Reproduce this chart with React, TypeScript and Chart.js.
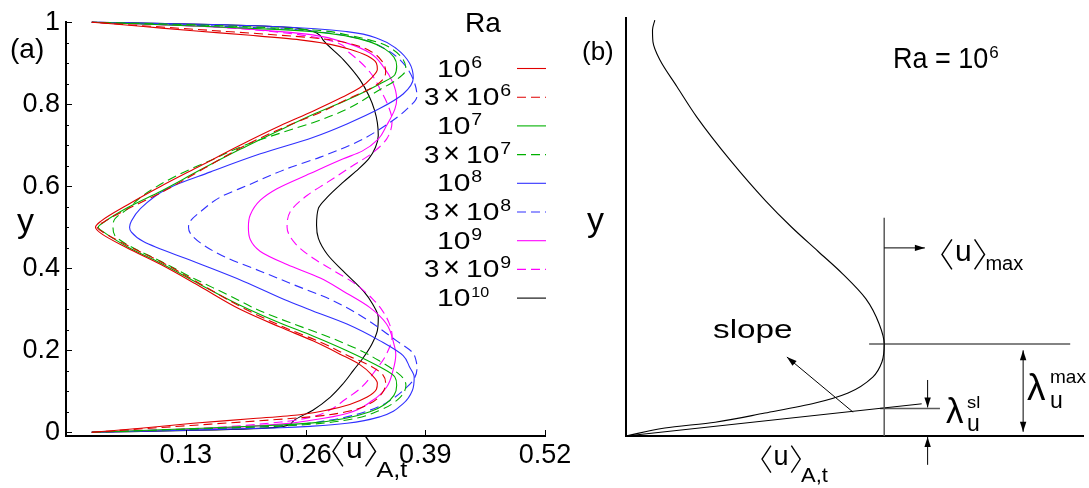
import { useEffect, useRef } from "react";
import { Chart, registerables } from "chart.js";

Chart.register(...registerables);

const FONT = '"Liberation Sans", Arial, Helvetica, sans-serif';

// ---------- panel (a): mean horizontal velocity <u>_{A,t} across the cell ----------
const RA_COEF = ["", "3", "", "3", "", "3", "", "3", ""];
const RA_EXP = ["6", "6", "7", "7", "8", "8", "9", "9", "10"];
const RA_COLORS = ["#e00000", "#e00000", "#00b000", "#00b000", "#3030ff", "#3030ff", "#ff00ff", "#ff00ff", "#000000"];
const RA_DASHED = [false, true, false, true, false, true, false, true, false];

const Y_1E6 = [0, 0.01, 0.022, 0.033, 0.043, 0.056, 0.068, 0.086, 0.105, 0.12, 0.14, 0.165, 0.19, 0.223, 0.256, 0.3, 0.355, 0.409, 0.449, 0.485, 0.5, 0.515, 0.555, 0.6, 0.65, 0.7, 0.748, 0.783, 0.815, 0.84, 0.865, 0.885, 0.9, 0.918, 0.934, 0.946, 0.957, 0.968, 0.979, 0.99, 1];
const U_1E6 = [0.028, 0.081, 0.138, 0.2, 0.254, 0.287, 0.308, 0.327, 0.337, 0.338, 0.332, 0.319, 0.298, 0.268, 0.233, 0.189, 0.146, 0.103, 0.067, 0.038, 0.032, 0.038, 0.067, 0.103, 0.146, 0.189, 0.233, 0.268, 0.298, 0.319, 0.332, 0.338, 0.337, 0.327, 0.308, 0.287, 0.254, 0.2, 0.138, 0.081, 0.028];

const Y_3E6 = [0, 0.01, 0.02, 0.03, 0.04, 0.052, 0.07, 0.095, 0.12, 0.14, 0.16, 0.185, 0.22, 0.255, 0.3, 0.355, 0.41, 0.452, 0.487, 0.5, 0.513, 0.548, 0.59, 0.645, 0.7, 0.745, 0.78, 0.815, 0.84, 0.86, 0.88, 0.905, 0.93, 0.948, 0.96, 0.97, 0.98, 0.99, 1];
const U_3E6 = [0.028, 0.092, 0.157, 0.222, 0.276, 0.308, 0.33, 0.343, 0.347, 0.344, 0.332, 0.308, 0.276, 0.238, 0.195, 0.151, 0.108, 0.07, 0.041, 0.034, 0.041, 0.07, 0.108, 0.151, 0.195, 0.238, 0.276, 0.308, 0.332, 0.344, 0.347, 0.343, 0.33, 0.308, 0.276, 0.222, 0.157, 0.092, 0.028];

const Y_1E7 = [0, 0.008, 0.018, 0.023, 0.035, 0.05, 0.068, 0.09, 0.115, 0.135, 0.159, 0.199, 0.235, 0.266, 0.31, 0.36, 0.412, 0.452, 0.488, 0.5, 0.512, 0.548, 0.588, 0.64, 0.69, 0.738, 0.775, 0.81, 0.85, 0.872, 0.893, 0.915, 0.935, 0.952, 0.966, 0.977, 0.982, 0.992, 1];
const U_1E7 = [0.028, 0.124, 0.233, 0.268, 0.305, 0.33, 0.346, 0.356, 0.359, 0.357, 0.341, 0.305, 0.268, 0.233, 0.189, 0.146, 0.103, 0.067, 0.041, 0.035, 0.041, 0.067, 0.103, 0.146, 0.189, 0.233, 0.268, 0.305, 0.341, 0.357, 0.359, 0.356, 0.346, 0.33, 0.305, 0.268, 0.233, 0.124, 0.028];

const Y_3E7 = [0, 0.007, 0.015, 0.02, 0.03, 0.054, 0.086, 0.115, 0.132, 0.15, 0.173, 0.196, 0.218, 0.238, 0.265, 0.296, 0.336, 0.376, 0.417, 0.457, 0.48, 0.5, 0.52, 0.545, 0.578, 0.627, 0.663, 0.699, 0.74, 0.755, 0.788, 0.836, 0.86, 0.885, 0.909, 0.933, 0.949, 0.969, 0.981, 0.993, 1];
const U_3E7 = [0.028, 0.124, 0.233, 0.268, 0.305, 0.341, 0.363, 0.369, 0.366, 0.357, 0.341, 0.323, 0.301, 0.279, 0.246, 0.211, 0.175, 0.138, 0.103, 0.067, 0.053, 0.051, 0.053, 0.067, 0.084, 0.121, 0.157, 0.193, 0.247, 0.268, 0.305, 0.341, 0.359, 0.369, 0.366, 0.355, 0.341, 0.305, 0.268, 0.146, 0.028];

const Y_1E8 = [0, 0.006, 0.011, 0.015, 0.022, 0.038, 0.07, 0.102, 0.135, 0.159, 0.187, 0.223, 0.264, 0.296, 0.32, 0.368, 0.417, 0.465, 0.488, 0.5, 0.515, 0.546, 0.594, 0.635, 0.679, 0.719, 0.752, 0.79, 0.825, 0.864, 0.9, 0.935, 0.958, 0.977, 0.989, 0.995, 1];
const U_1E8 = [0.028, 0.146, 0.233, 0.268, 0.305, 0.341, 0.366, 0.376, 0.378, 0.373, 0.366, 0.341, 0.305, 0.268, 0.241, 0.193, 0.138, 0.084, 0.071, 0.069, 0.071, 0.081, 0.11, 0.157, 0.211, 0.268, 0.305, 0.341, 0.366, 0.377, 0.373, 0.359, 0.341, 0.305, 0.233, 0.146, 0.028];

const Y_3E8 = [0, 0.008, 0.016, 0.03, 0.054, 0.078, 0.11, 0.127, 0.155, 0.175, 0.195, 0.223, 0.28, 0.324, 0.36, 0.393, 0.425, 0.457, 0.485, 0.5, 0.515, 0.538, 0.574, 0.602, 0.643, 0.671, 0.709, 0.756, 0.788, 0.82, 0.86, 0.9, 0.933, 0.957, 0.973, 0.984, 0.992, 1];
const U_3E8 = [0.028, 0.146, 0.233, 0.287, 0.33, 0.352, 0.37, 0.377, 0.381, 0.38, 0.376, 0.359, 0.323, 0.287, 0.247, 0.211, 0.175, 0.149, 0.135, 0.133, 0.135, 0.146, 0.168, 0.197, 0.24, 0.276, 0.317, 0.352, 0.37, 0.381, 0.377, 0.366, 0.348, 0.323, 0.287, 0.233, 0.146, 0.028];

const Y_1E9 = [0, 0.008, 0.02, 0.03, 0.046, 0.078, 0.11, 0.151, 0.19, 0.215, 0.264, 0.304, 0.344, 0.376, 0.409, 0.441, 0.47, 0.5, 0.53, 0.566, 0.594, 0.631, 0.667, 0.685, 0.715, 0.748, 0.788, 0.812, 0.852, 0.893, 0.925, 0.949, 0.969, 0.977, 0.99, 1];
const U_1E9 = [0.028, 0.146, 0.233, 0.268, 0.305, 0.333, 0.348, 0.355, 0.358, 0.356, 0.348, 0.33, 0.301, 0.276, 0.24, 0.211, 0.2, 0.198, 0.2, 0.211, 0.229, 0.265, 0.301, 0.321, 0.339, 0.348, 0.357, 0.359, 0.355, 0.344, 0.33, 0.305, 0.268, 0.233, 0.146, 0.028];

const Y_3E9 = [0, 0.01, 0.025, 0.038, 0.055, 0.08, 0.106, 0.151, 0.191, 0.235, 0.265, 0.295, 0.325, 0.365, 0.395, 0.425, 0.46, 0.5, 0.54, 0.578, 0.61, 0.651, 0.68, 0.715, 0.76, 0.795, 0.828, 0.878, 0.925, 0.953, 0.975, 0.99, 1];
const U_3E9 = [0.028, 0.146, 0.233, 0.268, 0.287, 0.303, 0.319, 0.336, 0.348, 0.354, 0.351, 0.344, 0.333, 0.312, 0.29, 0.268, 0.249, 0.24, 0.244, 0.262, 0.284, 0.312, 0.332, 0.348, 0.354, 0.35, 0.343, 0.33, 0.308, 0.29, 0.233, 0.146, 0.028];

const Y_1E10 = [0, 0.005, 0.012, 0.028, 0.054, 0.086, 0.119, 0.151, 0.183, 0.215, 0.248, 0.28, 0.312, 0.344, 0.393, 0.433, 0.473, 0.505, 0.546, 0.574, 0.61, 0.643, 0.668, 0.695, 0.724, 0.755, 0.785, 0.82, 0.86, 0.909, 0.957, 0.986, 0.995, 1];
const U_1E10 = [0.028, 0.146, 0.229, 0.247, 0.268, 0.287, 0.301, 0.312, 0.323, 0.332, 0.338, 0.339, 0.333, 0.323, 0.301, 0.284, 0.274, 0.272, 0.274, 0.284, 0.301, 0.318, 0.329, 0.336, 0.339, 0.338, 0.335, 0.329, 0.319, 0.301, 0.279, 0.25, 0.146, 0.028];

const PROFILES_Y = [Y_1E6, Y_3E6, Y_1E7, Y_3E7, Y_1E8, Y_3E8, Y_1E9, Y_3E9, Y_1E10];
const PROFILES_U = [U_1E6, U_3E6, U_1E7, U_3E7, U_1E8, U_3E8, U_1E9, U_3E9, U_1E10];

const X_TICKS_A = [0.13, 0.26, 0.39, 0.52];
const Y_TICKS_A = [0, 0.2, 0.4, 0.6, 0.8, 1];

// ---------- panel (b): sketch of the Ra = 10^6 profile near the lower wall ----------
const B_U = [0, 0.085, 0.195, 0.304, 0.414, 0.486, 0.54, 0.56, 0.565, 0.554, 0.525, 0.474, 0.42, 0.362, 0.306, 0.228, 0.155, 0.112, 0.074, 0.059, 0.058, 0.063];
const B_Y = [0, 0.019, 0.033, 0.055, 0.079, 0.103, 0.141, 0.177, 0.22, 0.268, 0.328, 0.388, 0.442, 0.5, 0.562, 0.66, 0.763, 0.835, 0.9, 0.943, 0.971, 0.995];
const B_SLOPE_END = { u: 0.647, y: 0.077 };
const B_SL_LEVEL = 0.066;

const DASH = [9, 5];

function put(ctx: CanvasRenderingContext2D, s: string, x: number, y: number, size: number, sx = 1, align: "left" | "center" | "right" = "left"): number {
  ctx.font = `${size}px ${FONT}`;
  ctx.textBaseline = "alphabetic";
  ctx.textAlign = "left";
  const w = ctx.measureText(s).width * sx;
  const x0 = align === "left" ? x : align === "center" ? x - w / 2 : x - w;
  ctx.save();
  ctx.translate(x0, y);
  ctx.scale(sx, 1);
  ctx.fillText(s, 0, 0);
  ctx.restore();
  return x0 + w;
}

// <inner>_sub with drawn angle brackets
function angled(ctx: CanvasRenderingContext2D, x: number, base: number, size: number, inner: string, sub: string, subSize: number, subSx: number, subDy: number) {
  const bw = 0.33 * size;
  const gap = 0.1 * size;
  const top = base - 0.72 * size;
  const bot = base + 0.28 * size;
  const mid = (top + bot) / 2;
  ctx.save();
  ctx.strokeStyle = "#000";
  ctx.lineWidth = Math.max(1.2, size / 20);
  ctx.beginPath();
  ctx.moveTo(x + bw, top);
  ctx.lineTo(x, mid);
  ctx.lineTo(x + bw, bot);
  ctx.stroke();
  let cx = put(ctx, inner, x + bw + gap, base, size);
  cx += gap;
  ctx.beginPath();
  ctx.moveTo(cx, top);
  ctx.lineTo(cx + bw, mid);
  ctx.lineTo(cx, bot);
  ctx.stroke();
  cx += bw + 0.03 * size;
  put(ctx, sub, cx, base + subDy, subSize, subSx);
  ctx.restore();
}

function seg(ctx: CanvasRenderingContext2D, x1: number, y1: number, x2: number, y2: number) {
  ctx.beginPath();
  ctx.moveTo(x1, y1);
  ctx.lineTo(x2, y2);
  ctx.stroke();
}

function head(ctx: CanvasRenderingContext2D, x1: number, y1: number, x2: number, y2: number, len = 10, half = 3.2) {
  const a = Math.atan2(y2 - y1, x2 - x1);
  const c = Math.cos(a);
  const s = Math.sin(a);
  ctx.beginPath();
  ctx.moveTo(x2, y2);
  ctx.lineTo(x2 - len * c + half * s, y2 - len * s - half * c);
  ctx.lineTo(x2 - len * c - half * s, y2 - len * s + half * c);
  ctx.closePath();
  ctx.fill();
}

function arrow(ctx: CanvasRenderingContext2D, x1: number, y1: number, x2: number, y2: number, both = false) {
  seg(ctx, x1, y1, x2, y2);
  head(ctx, x1, y1, x2, y2);
  if (both) head(ctx, x2, y2, x1, y1);
}

const panelADecor = {
  id: "panelADecor",
  afterDraw(chart: any) {
    const { ctx, chartArea: ca, scales } = chart;
    const sx = scales.x;
    const sy = scales.y;
    ctx.save();
    ctx.strokeStyle = "#000";
    ctx.fillStyle = "#000";
    ctx.lineWidth = 1;
    // inward tick marks: majors every 0.2, minors every 0.05
    for (let k = 0; k <= 20; k++) {
      const py = Math.round(sy.getPixelForValue(k * 0.05)) + 0.5;
      seg(ctx, ca.left, py, ca.left + (k % 4 === 0 ? 6 : 3), py);
    }
    X_TICKS_A.forEach((v) => {
      const px = Math.round(sx.getPixelForValue(v)) + 0.5;
      seg(ctx, px, ca.bottom, px, ca.bottom - 6);
    });

    // legend
    put(ctx, "Ra", 465, 32, 28);
    chart.data.datasets.forEach((ds: any, i: number) => {
      const ly = 68.5 + i * 28.7;
      ctx.save();
      ctx.strokeStyle = ds.borderColor;
      ctx.lineWidth = 1.1;
      ctx.setLineDash(ds.borderDash || []);
      seg(ctx, 517, ly, 546, ly);
      ctx.restore();
      const base = ly + 8;
      let cx: number;
      if (RA_COEF[i]) {
        put(ctx, RA_COEF[i], 424, base, 24, 1.15);
        put(ctx, "×", 443, base, 29, 1.0);
        cx = put(ctx, "10", 466, base, 24, 1.25);
      } else {
        cx = put(ctx, "10", 437, base, 24, 1.25);
      }
      const e = RA_EXP[i];
      put(ctx, e, cx + 1, ly - 1, e.length > 1 ? 14 : 17, 1.15);
    });

    // labels
    put(ctx, "(a)", 10, 58, 28);
    put(ctx, "y", 17, 232, 34);
    angled(ctx, 333, 458, 30, "u", "A,t", 22, 1.15, 19);
    ctx.restore();
  },
};

const OFF_B = 560;

const panelBDecor = {
  id: "panelBDecor",
  afterDraw(chart: any) {
    const { ctx, scales } = chart;
    const X = (v: number) => scales.x.getPixelForValue(v);
    const Y = (v: number) => scales.y.getPixelForValue(v);
    let iMax = 0;
    B_U.forEach((u, k) => { if (u > B_U[iMax]) iMax = k; });
    const uMax = B_U[iMax];
    const yMax = B_Y[iMax];
    ctx.save();
    ctx.strokeStyle = "#000";
    ctx.fillStyle = "#000";
    ctx.lineWidth = 1;
    // <u>_max pointer
    arrow(ctx, X(uMax), Y(0.45), X(0.654), Y(0.45));
    // slope pointer
    arrow(ctx, X(0.497), Y(0.057), X(0.352), Y(0.189));
    // lambda_sl markers
    const xs = X(0.66);
    arrow(ctx, xs, Y(0.134), xs, Y(B_SL_LEVEL) - 1);
    arrow(ctx, xs, Y(-0.069), xs, Y(0) + 1);
    // lambda_max span
    arrow(ctx, X(0.869), Y(yMax - 0.015), X(0.869), Y(0.01), true);

    const o = OFF_B;
    put(ctx, "(b)", 582 - o, 60, 26);
    put(ctx, "y", 587 - o, 231, 34);
    const cx = put(ctx, "Ra = 10", 893 - o, 68, 30, 0.9);
    put(ctx, "6", cx + 1, 58, 17);
    angled(ctx, 942 - o, 261, 30, "u", "max", 20, 1.0, 9);
    put(ctx, "slope", 713 - o, 338, 26, 1.28);
    put(ctx, "λ", 946 - o, 423, 35);
    put(ctx, "sl", 967 - o, 408, 16, 1.15);
    put(ctx, "u", 967 - o, 431, 23);
    put(ctx, "λ", 1027 - o, 400, 37);
    put(ctx, "max", 1050 - o, 383, 19);
    put(ctx, "u", 1050 - o, 408, 23);
    angled(ctx, 762 - o, 465, 27, "u", "A,t", 20, 1.1, 17);
    ctx.restore();
  },
};

function pts(us: number[], ys: number[]) {
  return ys.map((y, k) => ({ x: us[k], y }));
}

export default function App() {
  const refA = useRef<HTMLCanvasElement>(null);
  const refB = useRef<HTMLCanvasElement>(null);

  useEffect(() => {
    const datasetsA = PROFILES_Y.map((ys, i) => ({
      label: (RA_COEF[i] ? RA_COEF[i] + "×" : "") + "10^" + RA_EXP[i],
      data: pts(PROFILES_U[i], ys),
      borderColor: RA_COLORS[i],
      borderWidth: 1.1,
      borderDash: RA_DASHED[i] ? DASH : [],
      pointRadius: 0,
      cubicInterpolationMode: "monotone",
      fill: false,
      clip: false,
    }));

    const axisCommon = {
      type: "linear",
      grid: { display: false, drawTicks: false },
      border: { display: true, color: "#000", width: 2 },
    };

    const chartA = new Chart(refA.current as HTMLCanvasElement, {
      type: "line",
      data: { datasets: datasetsA as any },
      options: {
        indexAxis: "y",
        responsive: false,
        animation: false,
        events: [],
        layout: { padding: { left: 0, right: 35, top: 19, bottom: 0 } },
        plugins: { legend: { display: false }, tooltip: { enabled: false } },
        scales: {
          x: {
            ...axisCommon,
            position: "bottom",
            min: 0,
            max: 0.52,
            afterBuildTicks: (s: any) => { s.ticks = X_TICKS_A.map((v) => ({ value: v })); },
            afterFit: (s: any) => { s.height = 52; },
            ticks: { color: "#000", font: { family: FONT, size: 27 }, padding: 3, maxRotation: 0, autoSkip: false, callback: (v: any) => Number(v).toFixed(2) },
          },
          y: {
            ...axisCommon,
            position: "left",
            min: -0.009,
            max: 1,
            afterBuildTicks: (s: any) => { s.ticks = Y_TICKS_A.map((v) => ({ value: v })); },
            afterFit: (s: any) => { s.width = 66; },
            ticks: { color: "#000", font: { family: FONT, size: 27 }, padding: 6, callback: (v: any) => String(Math.round(Number(v) * 10) / 10) },
          },
        } as any,
      },
      plugins: [panelADecor],
    } as any);

    let iMax = 0;
    B_U.forEach((u, k) => { if (u > B_U[iMax]) iMax = k; });
    const uMax = B_U[iMax];
    const yMax = B_Y[iMax];
    const guide = { borderColor: "#5a5a5a", borderWidth: 1.5, pointRadius: 0, fill: false, clip: false };

    const chartB = new Chart(refB.current as HTMLCanvasElement, {
      type: "line",
      data: {
        datasets: [
          { label: "Ra = 10^6", data: pts(B_U, B_Y), borderColor: "#000", borderWidth: 1.1, pointRadius: 0, cubicInterpolationMode: "monotone", fill: false, clip: false },
          { label: "umax", data: [{ x: uMax, y: 0 }, { x: uMax, y: 0.522 }], ...guide },
          { label: "ymax", data: [{ x: 0.532, y: yMax }, { x: 0.972, y: yMax }], ...guide },
          { label: "slope", data: [{ x: 0, y: 0 }, { x: B_SLOPE_END.u, y: B_SLOPE_END.y }], borderColor: "#000", borderWidth: 1, pointRadius: 0, fill: false },
          { label: "sl", data: [{ x: 0.556, y: B_SL_LEVEL }, { x: 0.687, y: B_SL_LEVEL }], ...guide },
        ] as any,
      },
      options: {
        indexAxis: "y",
        responsive: false,
        animation: false,
        events: [],
        layout: { padding: { left: 0, right: 6, top: 18, bottom: 0 } },
        plugins: { legend: { display: false }, tooltip: { enabled: false } },
        scales: {
          x: { ...axisCommon, position: "bottom", min: 0, max: 1, ticks: { display: false }, afterFit: (s: any) => { s.height = 52; } },
          y: { ...axisCommon, position: "left", min: 0, max: 1, ticks: { display: false }, afterFit: (s: any) => { s.width = 66; } },
        } as any,
      },
      plugins: [panelBDecor],
    } as any);

    return () => {
      chartA.destroy();
      chartB.destroy();
    };
  }, []);

  return (
    <div style={{ position: "absolute", left: 0, top: 0, width: 1089, height: 488, background: "#fff", overflow: "hidden" }}>
      <canvas ref={refA} width={580} height={488} style={{ position: "absolute", left: 0, top: 0 }} />
      <canvas ref={refB} width={529} height={488} style={{ position: "absolute", left: OFF_B, top: 0 }} />
    </div>
  );
}
